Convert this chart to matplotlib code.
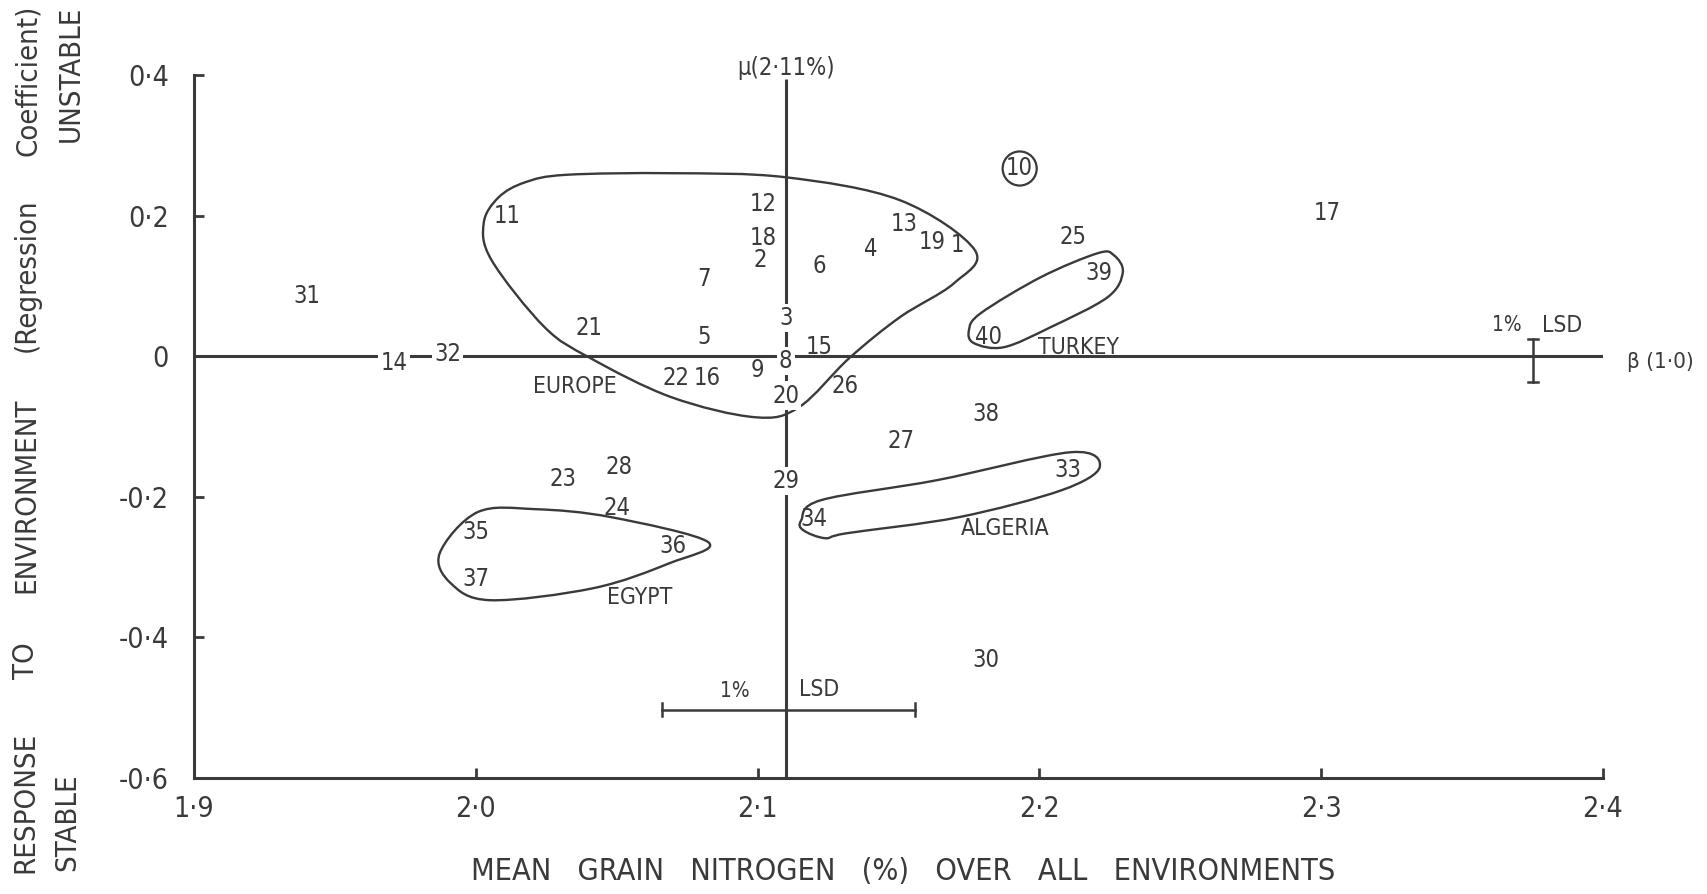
import matplotlib
matplotlib.use("Agg")
import matplotlib.pyplot as plt
import numpy as np
from matplotlib.path import Path
from matplotlib.patches import PathPatch

# genotype numbers, mean grain N (%) and regression coefficient (deviation from 1)
labels = ["1", "2", "3", "4", "5", "6", "7", "8", "9", "10",
          "11", "12", "13", "14", "15", "16", "17", "18", "19", "20",
          "21", "22", "23", "24", "25", "26", "27", "28", "29", "30",
          "31", "32", "33", "34", "35", "36", "37", "38", "39", "40"]
nitrogen = [2.171, 2.101, 2.110, 2.140, 2.081, 2.122, 2.081, 2.110, 2.100, 2.193,
            2.011, 2.102, 2.152, 1.971, 2.122, 2.082, 2.302, 2.102, 2.162, 2.110,
            2.040, 2.071, 2.031, 2.050, 2.212, 2.131, 2.151, 2.051, 2.110, 2.181,
            1.940, 1.990, 2.210, 2.120, 2.000, 2.070, 2.000, 2.181, 2.221, 2.182]
regression = [0.158, 0.137, 0.054, 0.152, 0.028, 0.128, 0.110, -0.007, -0.020, 0.267,
              0.200, 0.216, 0.188, -0.010, 0.013, -0.031, 0.203, 0.168, 0.162, -0.056,
              0.040, -0.031, -0.174, -0.216, 0.169, -0.042, -0.121, -0.158, -0.178, -0.432,
              0.085, 0.003, -0.162, -0.232, -0.250, -0.270, -0.317, -0.082, 0.118, 0.027]
on_line = ["3", "8", "14", "20", "29", "32"]

# hand drawn group outlines
europe_x = [2.0320, 2.0694, 2.1098, 2.1505, 2.1771, 2.1697, 2.1505, 2.1325, 2.1147, 2.0991,
            2.0694, 2.0407, 2.0244, 2.0056, 2.0028, 2.0081, 2.0176]
europe_y = [0.2580, 0.2603, 0.2546, 0.2219, 0.1508, 0.1038, 0.0555, -0.0028, -0.0725, -0.0868,
            -0.0583, -0.0028, 0.0413, 0.1366, 0.1892, 0.2260, 0.2475]
turkey_x = [2.175, 2.1792, 2.2005, 2.2207, 2.2264, 2.2296, 2.2242, 2.2040, 2.1874, 2.1768]
turkey_y = [0.037, 0.0612, 0.1124, 0.1465, 0.1437, 0.1195, 0.0839, 0.0413, 0.0128, 0.0185]
algeria_x = [2.1155, 2.1225, 2.1636, 2.2111, 2.2214, 2.2079, 2.1714, 2.1317, 2.1240, 2.1162]
algeria_y = [-0.2333, -0.2048, -0.1764, -0.1366, -0.1579, -0.1906, -0.229, -0.2518, -0.2589, -0.2475]
egypt_x = [1.9872, 2.0006, 2.0212, 2.0481, 2.0825, 2.0687, 2.0417, 2.0052, 1.9911]
egypt_y = [-0.2802, -0.2219, -0.2176, -0.229, -0.2646, -0.2945, -0.33, -0.3471, -0.3229]
groups = [("EUROPE", 2.035, -0.043), ("TURKEY", 2.214, 0.013),
          ("ALGERIA", 2.188, -0.245), ("EGYPT", 2.058, -0.343)]

mu = 2.11
lsd_n = (2.066, 2.156, -0.503)
lsd_b = (2.3752, 0.0242, -0.037)

xticks = [1.9, 2.0, 2.1, 2.2, 2.3, 2.4]
yticks = [0.4, 0.2, 0.0, -0.2, -0.4, -0.6]

ink = "#3a3a3a"
plt.rcParams["font.family"] = ["DejaVu Sans"]
plt.rcParams["font.stretch"] = "condensed"
plt.rcParams["text.color"] = ink


def outline(xs, ys):
    # closed smooth curve through the points (Catmull-Rom as Bezier)
    p = np.column_stack([xs, ys])
    n = len(p)
    verts = [p[0]]
    codes = [Path.MOVETO]
    for i in range(n):
        p0, p1, p2, p3 = p[i - 1], p[i], p[(i + 1) % n], p[(i + 2) % n]
        verts += [p1 + (p2 - p0) / 6, p2 - (p3 - p1) / 6, p2]
        codes += [Path.CURVE4] * 3
    return Path(verts, codes)


fig = plt.figure(figsize=(17.07, 8.94), dpi=100)
W, H = 1707, 894
ax = fig.add_axes([194 / W, 1 - 778 / H, (1603 - 194) / W, (778 - 75) / H])
ax.set_xlim(1.9, 2.4)
ax.set_ylim(-0.6, 0.4)
for s in ["top", "right"]:
    ax.spines[s].set_visible(False)
for s in ["left", "bottom"]:
    ax.spines[s].set_color(ink)
    ax.spines[s].set_linewidth(2.2)

ax.set_xticks(xticks)
ax.set_xticklabels([f"{v:.1f}".replace(".", "·") for v in xticks])
ax.set_yticks(yticks)
ax.set_yticklabels(["0" if v == 0 else f"{v:.1f}".replace(".", "·") for v in yticks])
ax.tick_params(axis="both", direction="in", length=7, width=2, color=ink,
               labelcolor=ink, labelsize=20.5)
ax.tick_params(axis="x", pad=12)
ax.tick_params(axis="y", pad=18)

# mean and beta = 1 reference lines
ax.plot([mu, mu], [-0.6, 0.395], color=ink, lw=2.2, solid_capstyle="butt")
ax.plot([1.9, 2.4], [0, 0], color=ink, lw=2.2, solid_capstyle="butt")
ax.text(mu, 0.41, "μ(2·11%)", ha="center", va="center", fontsize=17)
ax.text(2.4085, -0.008, "β (1·0)", ha="left", va="center", fontsize=16)

for xs, ys in [(europe_x, europe_y), (turkey_x, turkey_y),
               (algeria_x, algeria_y), (egypt_x, egypt_y)]:
    ax.add_patch(PathPatch(outline(xs, ys), fc="none", ec=ink, lw=1.7))

for lab, x, y in zip(labels, nitrogen, regression):
    kw = {}
    if lab in on_line:
        kw["bbox"] = dict(fc="white", ec="none", pad=1.5)
    if lab == "10":
        kw["bbox"] = dict(boxstyle="circle,pad=0.15", fc="white", ec=ink, lw=1.6)
    ax.text(x, y, lab, ha="center", va="center", fontsize=17, zorder=5, **kw)

for name, x, y in groups:
    ax.text(x, y, name, ha="center", va="center", fontsize=16.5)

# 1% LSD bars
x0, x1, yl = lsd_n
ax.plot([x0, x1], [yl, yl], color=ink, lw=1.8)
for xe in (x0, x1):
    ax.plot([xe, xe], [yl - 0.009, yl + 0.009], color=ink, lw=1.8)
ax.text(2.092, yl + 0.012, "1%", ha="center", va="bottom", fontsize=15)
ax.text(2.122, yl + 0.012, "LSD", ha="center", va="bottom", fontsize=16.5)
xb, yt, yb = lsd_b
ax.plot([xb, xb], [yb, yt], color=ink, lw=1.8)
for ye in (yb, yt):
    ax.plot([xb - 0.0018, xb + 0.0018], [ye, ye], color=ink, lw=1.8)
ax.text(2.366, 0.044, "1%", ha="center", va="center", fontsize=15)
ax.text(2.3855, 0.044, "LSD", ha="center", va="center", fontsize=16.5)

fig.text(903 / W, 1 - 872 / H, "MEAN   GRAIN   NITROGEN   (%)   OVER   ALL   ENVIRONMENTS",
         ha="center", va="center", fontsize=22)

for word, px, py in [("Coefficient)", 28, 80), ("(Regression", 27, 275),
                     ("ENVIRONMENT", 26, 495), ("TO", 26, 661), ("RESPONSE", 25, 802),
                     ("UNSTABLE", 71, 74), ("STABLE", 67, 822)]:
    fig.text(px / W, 1 - py / H, word, rotation=90, ha="center", va="center",
             fontsize=21)

plt.savefig("out.png", dpi=100)
